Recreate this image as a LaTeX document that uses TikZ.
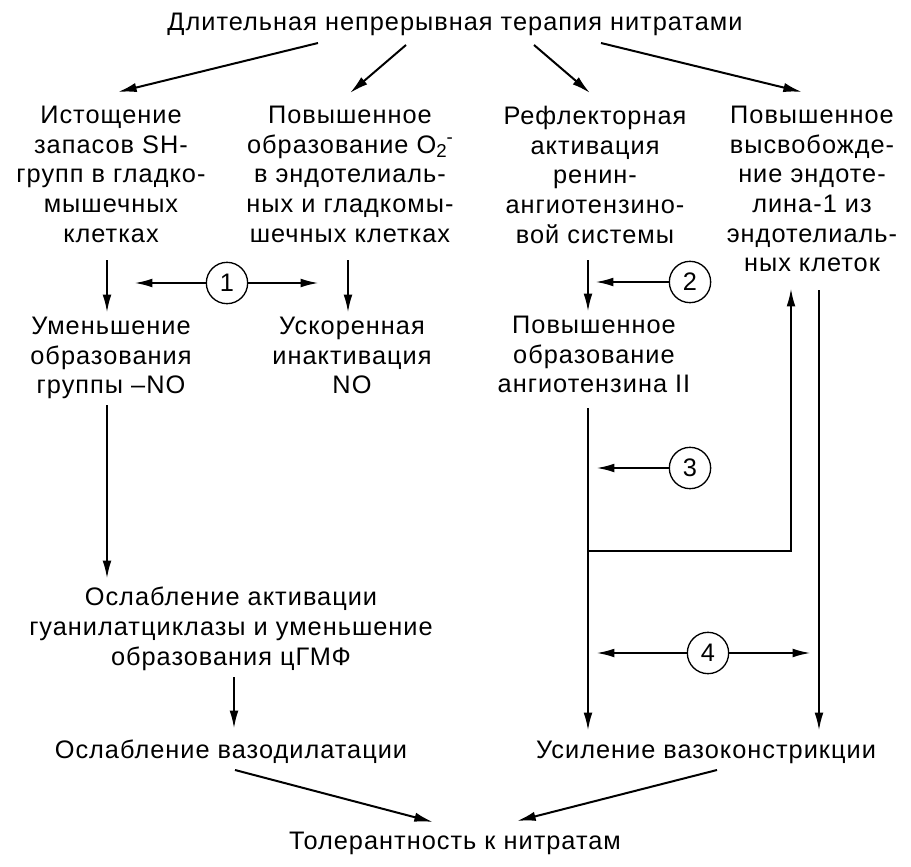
\documentclass[tikz,border=0pt]{standalone}
\usepackage{fontspec}
\setmainfont[LetterSpace=4]{Liberation Sans}
\usetikzlibrary{arrows.meta}
\begin{document}
\begin{tikzpicture}[x=0.75pt,y=-0.75pt,
  blk/.style={align=center,anchor=north,font=\fontsize{19}{22.2}\selectfont,inner sep=0pt,
    execute at begin node=\strut, execute at end node=\strut},
  arr/.style={line width=1pt,-{Latex[length=13pt,width=6.5pt]}},
  tarr/.style={line width=1.5pt,-{Latex[length=14pt,width=7pt]}},
  num/.style={circle,draw,line width=1pt,minimum size=31pt,inner sep=0pt,font=\fontsize{19}{20}\selectfont}]
\useasboundingbox (0,0) rectangle (911,867);
\fill[white] (0,0) rectangle (911,867);
% texts (anchor north = first baseline - 20.7px)
\node[blk] (top) at (455,10) {Длительная непрерывная терапия нитратами};
\node[blk] (i1) at (111,106) {Истощение\\запасов SH-\\групп в гладко-\\мышечных\\клетках};
\node[blk] (i2) at (350,106) {Повышенное\\образование O\raisebox{-0.35ex}{\fontsize{14}{14}\selectfont 2}\raisebox{0.75ex}{\fontsize{14}{14}\selectfont -}\\в эндотелиаль-\\ных и гладкомы-\\шечных клетках};
\node[blk] (i3) at (595,106) {Рефлекторная\\активация\\ренин-\\ангиотензино-\\вой системы};
\node[blk] (i4) at (812,106) {Повышенное\\высвобожде-\\ние эндоте-\\лина-1 из\\эндотелиаль-\\ных клеток};
\node[blk] (r1) at (111,317) {Уменьшение\\образования\\группы –NO};
\node[blk] (r2) at (352,317) {Ускоренная\\инактивация\\NO};
\node[blk] (r3) at (594,316) {Повышенное\\образование\\ангиотензина II};
\node[blk] (g) at (231,587) {Ослабление активации\\гуанилатциклазы и уменьшение\\образования цГМФ};
\node[blk] (v1) at (231,738) {Ослабление вазодилатации};
\node[blk] (v2) at (706,738) {Усиление вазоконстрикции};
\node[blk] (t) at (455,829) {Толерантность к нитратам};
% circles
\node[num] (c1) at (227,283) {1};
\node[num] (c2) at (690,282) {2};
\node[num] (c3) at (690,468) {3};
\node[num] (c4) at (708,653) {4};
% coordinates
\coordinate (ts1) at (318,43); \coordinate (te1) at (118,92);
\coordinate (ts2) at (406,45); \coordinate (te2) at (350,93);
\coordinate (ts3) at (534,45); \coordinate (te3) at (590,93);
\coordinate (ts4) at (601,43); \coordinate (te4) at (802,92);
\coordinate (a1s) at (107,260); \coordinate (a1e) at (107,312);
\coordinate (a2s) at (348,260); \coordinate (a2e) at (348,312);
\coordinate (a3s) at (588,260); \coordinate (a3e) at (588,311);
\coordinate (c1l) at (135,283); \coordinate (c1r) at (318,283);
\coordinate (c2l) at (596,282);
\coordinate (b1s) at (107,405); \coordinate (b1e) at (107,578);
\coordinate (b3s) at (588,408); \coordinate (b3e) at (588,730);
\coordinate (c3l) at (597,468);
\coordinate (k1) at (588,551); \coordinate (k2) at (791,551); \coordinate (k3) at (791,289);
\coordinate (d4s) at (819,290); \coordinate (d4e) at (819,730);
\coordinate (c4l) at (597,653); \coordinate (c4r) at (810,653);
\coordinate (gs) at (234,677); \coordinate (ge) at (234,728);
\coordinate (vs1) at (235,770); \coordinate (ve1) at (433,822);
\coordinate (vs2) at (717,770); \coordinate (ve2) at (517,821);
% connectors
\draw[tarr] (ts1) -- (te1);
\draw[tarr] (ts2) -- (te2);
\draw[tarr] (ts3) -- (te3);
\draw[tarr] (ts4) -- (te4);
\draw[arr] (a1s) -- (a1e);
\draw[arr] (a2s) -- (a2e);
\draw[arr] (a3s) -- (a3e);
\draw[arr] (c1.west) -- (c1l);
\draw[arr] (c1.east) -- (c1r);
\draw[arr] (c2.west) -- (c2l);
\draw[arr] (b1s) -- (b1e);
\draw[arr] (b3s) -- (b3e);
\draw[arr] (c3.west) -- (c3l);
\draw[arr] (k1) -- (k2) -- (k3);
\draw[arr] (d4s) -- (d4e);
\draw[arr] (c4.west) -- (c4l);
\draw[arr] (c4.east) -- (c4r);
\draw[arr] (gs) -- (ge);
\draw[tarr] (vs1) -- (ve1);
\draw[tarr] (vs2) -- (ve2);
\end{tikzpicture}
\end{document}
